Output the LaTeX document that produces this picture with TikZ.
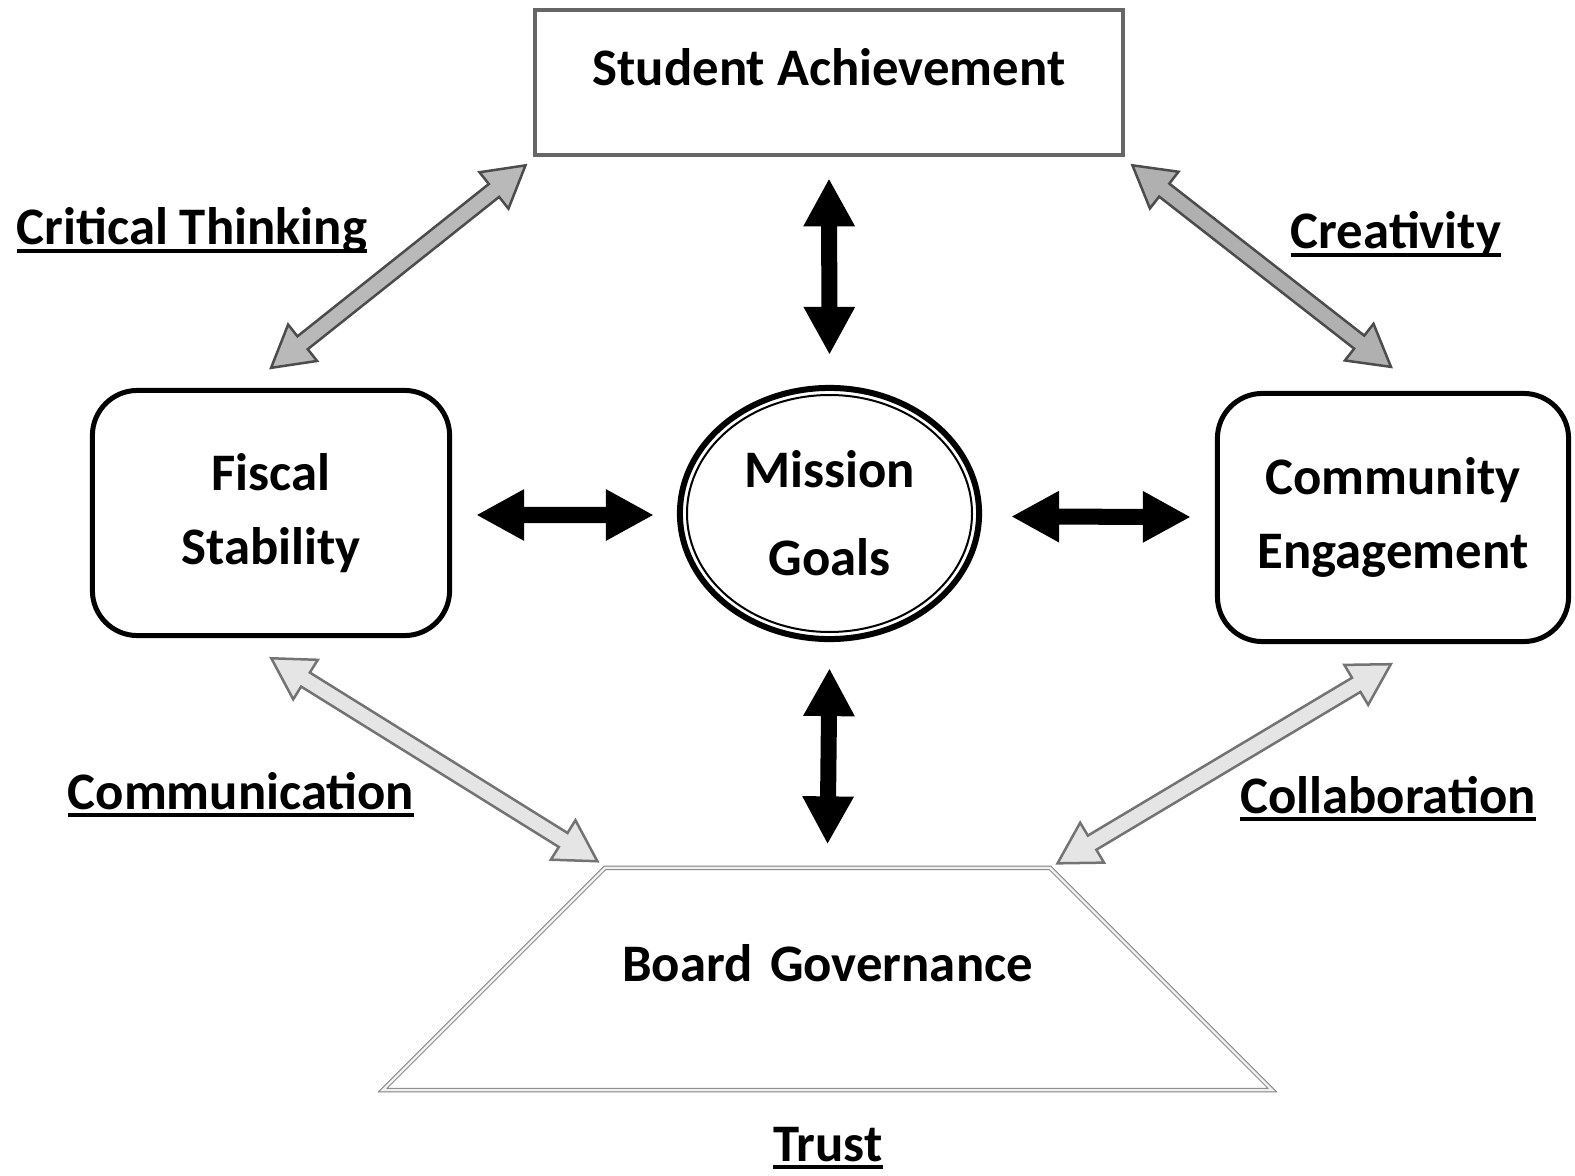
\documentclass[tikz,border=0pt]{standalone}
\usepackage{fontspec}
\setmainfont{Carlito}
\usetikzlibrary{arrows.meta,shapes.geometric,shapes.arrows,calc}

\newcommand{\ulabel}[1]{\setbox0\hbox{#1}\rlap{\rule[-2.2pt]{\wd0}{1.1pt}}\box0}
\newcommand{\linkarrow}[3]{%
  \path let \p1=(#2), \p2=(#3), \n1={atan2(\y2-\y1,\x2-\x1)}, \n2={veclen(\x2-\x1,\y2-\y1)}
    in node[linkarrow, #1, minimum height=\n2, rotate=\n1] at ($(\p1)!0.5!(\p2)$) {};}

\begin{document}
\begin{tikzpicture}[x=0.01cm, y=-0.01cm,
  every node/.style={font=\fontsize{15}{21}\selectfont\bfseries},
  topbox/.style={rectangle, draw=black!60, line width=0.45mm, inner sep=0pt},
  goalbox/.style={rectangle, draw=black, line width=0.5mm, rounded corners=4.5mm, align=center, inner sep=0pt},
  corebox/.style={ellipse, draw=black, line width=0.6mm, align=center, inner sep=0pt},
  basebox/.style={trapezium, trapezium left angle=45, trapezium right angle=45,
    draw=black!50, double=gray!12, double distance=0.25mm, line width=0.1mm, inner sep=0pt, align=center},
  bigarrow/.style={line width=1.6mm, {Triangle[length=4.8mm,width=4.8mm]}-{Triangle[length=4.8mm,width=4.8mm]}},
  linkarrow/.style={double arrow, double arrow tip angle=60, double arrow head extend=1.5mm,
    inner xsep=0pt, inner ysep=0.7mm, draw=black!70, line width=0.25mm},
  tagtext/.style={anchor=base}]
\useasboundingbox (0,0) rectangle (1575,1176);

% boxes
\node[topbox, minimum width=5.88cm, minimum height=1.45cm, text depth=0.31cm] (sa) at (829,82.5) {Student Achievement};
\node[goalbox, minimum width=3.57cm, minimum height=2.45cm] (fs) at (271,513) {Fiscal\\Stability};
\node[goalbox, minimum width=3.51cm, minimum height=2.48cm] (ce) at (1393,517.5) {Community\\Engagement};
\node[corebox, minimum width=2.99cm, minimum height=2.51cm] (mg) at (829.5,513.5) {Mission\\[4pt]Goals};
\draw[line width=0.2mm] (mg.center) ellipse [x radius=142.5, y radius=118.5]; % inner ring
\node[basebox, text width=4.45cm, text height=1.13cm, text depth=1.09cm] (bg) at (827.5,979) {\mbox{Board Governance}};

% black arrows
\draw[bigarrow] ([yshift=-2.1mm]sa.south) -- ([yshift=3mm]mg.north); % top
\draw[bigarrow] ([yshift=-2.6mm]mg.south) -- ([yshift=2.3mm]bg.north); % bottom
\draw[bigarrow] ([xshift=2.4mm,yshift=-0.2mm]fs.east) -- ([xshift=-2.3mm,yshift=-0.15mm]mg.west); % left
\draw[bigarrow] ([xshift=2.9mm,yshift=-0.3mm]mg.east) -- ([xshift=-2.4mm,yshift=0.05mm]ce.west); % right

% gray arrows
\linkarrow{fill=gray!55}{[yshift=2mm]fs.north}{[xshift=-0.7mm,yshift=-0.8mm]sa.south west}
\linkarrow{fill=gray!62}{[xshift=0.7mm,yshift=-0.8mm]sa.south east}{[xshift=-0.2mm,yshift=2.4mm]ce.north}
\linkarrow{fill=gray!20, draw=black!55}{[yshift=-2mm]fs.south}{[xshift=-0.7mm,yshift=0.6mm]bg.top left corner}
\linkarrow{fill=gray!20, draw=black!55}{[xshift=0.7mm,yshift=0.4mm]bg.top right corner}{[xshift=-0.2mm,yshift=-2mm]ce.south}

% labels
\node[tagtext] (ct) at (192,245) {\ulabel{Critical Thinking}};
\node[tagtext] (cr) at (1396,249) {\ulabel{Creativity}};
\node[tagtext] (cm) at (241,809) {\ulabel{Communication}};
\node[tagtext] (cl) at (1388,813) {\ulabel{Collaboration}};
\node[tagtext] (tr) at (828,1161) {\ulabel{Trust}};
\end{tikzpicture}
\end{document}
